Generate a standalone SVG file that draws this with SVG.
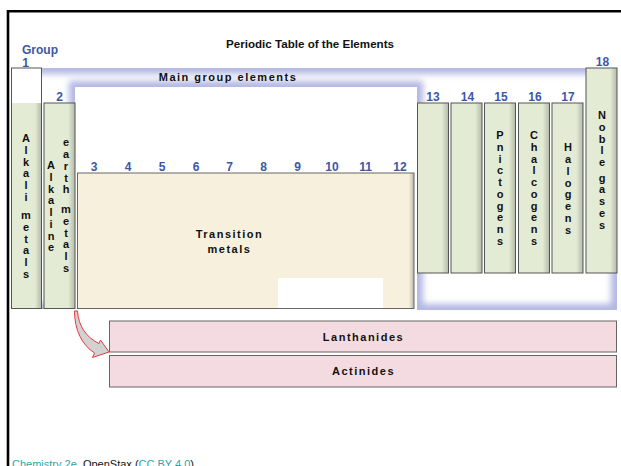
<svg xmlns="http://www.w3.org/2000/svg" width="621" height="466" viewBox="0 0 621 466">
<style>
.num{font-family:"Liberation Sans",Arial,sans-serif;font-weight:bold;font-size:12px;fill:#3d56a6;text-anchor:middle}
.vt{font-family:"Liberation Sans",Arial,sans-serif;font-weight:bold;font-size:11px;fill:#111;text-anchor:middle}
.lbl{font-family:"Liberation Sans",Arial,sans-serif;font-weight:bold;font-size:11px;letter-spacing:1.5px;fill:#111;text-anchor:middle}
.col{fill:url(#gcol);stroke:#555;stroke-width:1}
.box{stroke:#666;stroke-width:1}
</style>
<defs>
<linearGradient id="gcol" x1="0" y1="0" x2="1" y2="0">
<stop offset="0" stop-color="#e3ebd4"/><stop offset="0.78" stop-color="#e3ebd4"/><stop offset="1" stop-color="#b3baa9"/>
</linearGradient>
<linearGradient id="gtr" x1="0" y1="0" x2="1" y2="0">
<stop offset="0" stop-color="#f6f0dc"/><stop offset="0.985" stop-color="#f6f0dc"/><stop offset="1" stop-color="#b8b4a8"/>
</linearGradient>
<clipPath id="mgclip"><path d="M11,68 H617 V310 H417 V87 H75 V309 H11 Z"/></clipPath>
<filter id="blur" x="-0.1" y="-0.1" width="1.2" height="1.2"><feGaussianBlur stdDeviation="3"/></filter>
</defs>
<rect width="621" height="466" fill="#fff"/>
<path d="M8,466 V11.3 H621" fill="none" stroke="#000" stroke-width="2.6"/>
<text x="310" y="48" style="font-family:'Liberation Sans',Arial,sans-serif;font-weight:bold;font-size:11.6px;fill:#111;text-anchor:middle">Periodic Table of the Elements</text>
<text x="22" y="53.5" style="font-family:'Liberation Sans',Arial,sans-serif;font-weight:bold;font-size:12px;fill:#3d56a6">Group</text>
<g id="maingroup">
<g clip-path="url(#mgclip)">
<path d="M11,68 H617 V310 H417 V87 H75 V309 H11 Z" fill="#fff"/>
<path d="M11,68 H617 V310 H417 V87 H75 V309 H11 Z" fill="none" stroke="#b2b7e3" stroke-width="12" filter="url(#blur)"/>
</g>
<text class="lbl" x="228" y="81">Main group elements</text>
</g>
<g id="group1">
<rect x="11.5" y="68" width="30" height="35" fill="#fff"/>
<rect x="11.5" y="103" width="30" height="205.5" fill="url(#gcol)"/>
<rect x="11.5" y="68" width="30" height="240.5" fill="none" stroke="#555"/>
<text class="num" x="25.5" y="66.5">1</text>
<text class="vt"><tspan x="26" y="142">A</tspan><tspan x="26" y="153.75">l</tspan><tspan x="26" y="165.5">k</tspan><tspan x="26" y="177.25">a</tspan><tspan x="26" y="189">l</tspan><tspan x="26" y="200.75">i</tspan><tspan x="26" y="219">m</tspan><tspan x="26" y="230.75">e</tspan><tspan x="26" y="242.5">t</tspan><tspan x="26" y="254.25">a</tspan><tspan x="26" y="266">l</tspan><tspan x="26" y="277.75">s</tspan></text>
</g>
<g id="group2">
<rect class="col" x="44" y="103" width="31" height="205.5"/>
<text class="num" x="59.5" y="101">2</text>
<text class="vt"><tspan x="51" y="169">A</tspan><tspan x="51" y="180.75">l</tspan><tspan x="51" y="192.5">k</tspan><tspan x="51" y="204.25">a</tspan><tspan x="51" y="216">l</tspan><tspan x="51" y="227.75">i</tspan><tspan x="51" y="239.5">n</tspan><tspan x="51" y="251.25">e</tspan></text>
<text class="vt"><tspan x="66" y="146.3">e</tspan><tspan x="66" y="158">a</tspan><tspan x="66" y="169.8">r</tspan><tspan x="66" y="181.5">t</tspan><tspan x="66" y="193.3">h</tspan><tspan x="66" y="213">m</tspan><tspan x="66" y="224.75">e</tspan><tspan x="66" y="236.5">t</tspan><tspan x="66" y="248.25">a</tspan><tspan x="66" y="260">l</tspan><tspan x="66" y="271.75">s</tspan></text>
</g>
<g id="transition">
<rect x="77.5" y="173" width="336.5" height="135.5" fill="url(#gtr)" stroke="#666"/>
<rect x="278" y="278" width="105" height="30" fill="#fff"/>
<g class="num"><text x="94" y="171">3</text><text x="128" y="171">4</text><text x="162" y="171">5</text><text x="196" y="171">6</text><text x="229.5" y="171">7</text><text x="263.5" y="171">8</text><text x="297.5" y="171">9</text><text x="332" y="171">10</text><text x="365.5" y="171">11</text><text x="400" y="171">12</text></g>
<text class="lbl" x="229.5" y="238">Transition</text>
<text class="lbl" x="229.5" y="252.5">metals</text>
</g>
<g id="group13"><rect class="col" x="417.5" y="103" width="31" height="170"/><text class="num" x="433" y="101">13</text></g>
<g id="group14"><rect class="col" x="451" y="103" width="31" height="170"/><text class="num" x="467.5" y="101">14</text></g>
<g id="group15"><rect class="col" x="484.5" y="103" width="31" height="170"/><text class="num" x="501" y="101">15</text>
<text class="vt"><tspan x="500" y="139">P</tspan><tspan x="500" y="150.75">n</tspan><tspan x="500" y="162.5">i</tspan><tspan x="500" y="174.25">c</tspan><tspan x="500" y="186">t</tspan><tspan x="500" y="197.75">o</tspan><tspan x="500" y="209.5">g</tspan><tspan x="500" y="221.25">e</tspan><tspan x="500" y="233">n</tspan><tspan x="500" y="244.75">s</tspan></text></g>
<g id="group16"><rect class="col" x="518.5" y="103" width="31" height="170"/><text class="num" x="535" y="101">16</text>
<text class="vt"><tspan x="534" y="139">C</tspan><tspan x="534" y="150.75">h</tspan><tspan x="534" y="162.5">a</tspan><tspan x="534" y="174.25">l</tspan><tspan x="534" y="186">c</tspan><tspan x="534" y="197.75">o</tspan><tspan x="534" y="209.5">g</tspan><tspan x="534" y="221.25">e</tspan><tspan x="534" y="233">n</tspan><tspan x="534" y="244.75">s</tspan></text></g>
<g id="group17"><rect class="col" x="552" y="103" width="31" height="170"/><text class="num" x="568" y="101">17</text>
<text class="vt"><tspan x="568" y="151.3">H</tspan><tspan x="568" y="163.05">a</tspan><tspan x="568" y="174.8">l</tspan><tspan x="568" y="186.55">o</tspan><tspan x="568" y="198.3">g</tspan><tspan x="568" y="210.05">e</tspan><tspan x="568" y="221.8">n</tspan><tspan x="568" y="233.55">s</tspan></text></g>
<g id="group18"><rect class="col" x="586" y="68" width="31" height="205"/><text class="num" x="602.5" y="66">18</text>
<text class="vt"><tspan x="602" y="119">N</tspan><tspan x="602" y="130.75">o</tspan><tspan x="602" y="142.5">b</tspan><tspan x="602" y="154.25">l</tspan><tspan x="602" y="166">e</tspan><tspan x="602" y="181.7">g</tspan><tspan x="602" y="193.45">a</tspan><tspan x="602" y="205.2">s</tspan><tspan x="602" y="216.95">e</tspan><tspan x="602" y="228.7">s</tspan></text></g>
<g id="lanthanides"><rect class="box" x="109.5" y="321" width="507" height="31" fill="#f4dbe1"/><text class="lbl" x="363.5" y="340.5">Lanthanides</text></g>
<g id="actinides"><rect class="box" x="109.5" y="355.5" width="507" height="31.5" fill="#f4dbe1"/><text class="lbl" x="363.5" y="375">Actinides</text></g>
<g id="connectors">
<path d="M74.5,311 C74.5,330 82,345 94.5,353 L92.5,357.5 L109,352 L100.5,340 L98.9,343.5 C86,337 78.5,326 77.5,311 Z" fill="#d2d2d2" stroke="#e8363f" stroke-width="1" stroke-linejoin="miter"/>
</g>
<text x="12" y="468" style="font-family:'Liberation Sans',Arial,sans-serif;font-size:11px;fill:#111"><tspan fill="#2aa5ac">Chemistry 2e</tspan>, OpenStax (<tspan fill="#2aa5ac">CC BY 4.0</tspan>)</text>
</svg>
